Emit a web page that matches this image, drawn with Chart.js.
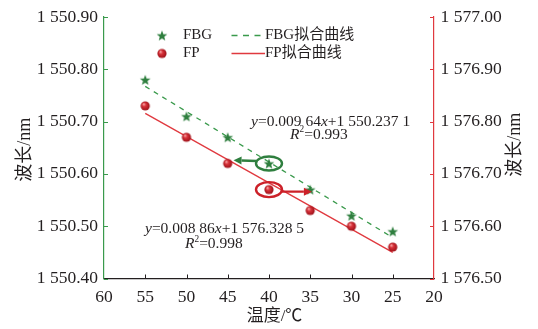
<!DOCTYPE html>
<html>
<head>
<meta charset="utf-8">
<script src="https://cdn.jsdelivr.net/npm/chart.js@4.4.1/dist/chart.umd.min.js"></script>
<style>
  html, body { margin: 0; padding: 0; background: #fff; }
  #wrap { width: 538px; height: 329px; position: relative; }
</style>
</head>
<body>
<div id="wrap"><canvas id="chart"></canvas></div>
<script>
// Temperature sweep (°C) and measured peak wavelengths (nm)
const temperatures   = [55, 50, 45, 40, 35, 30, 25];
const fbgWavelength  = [1550.78, 1550.71, 1550.67, 1550.62, 1550.57, 1550.52, 1550.49];
const fpWavelength   = [1576.83, 1576.77, 1576.72, 1576.67, 1576.63, 1576.60, 1576.56];

// Linear fits: slope, intercept, R²
const fbgFit = [0.00964, 1550.2371, 0.993];
const fpFit  = [0.00886, 1576.3285, 0.998];

// Axis ticks
const xTicks     = [60, 55, 50, 45, 40, 35, 30, 25, 20];
const leftTicks  = [1550.40, 1550.50, 1550.60, 1550.70, 1550.80, 1550.90];
const rightTicks = [1576.50, 1576.60, 1576.70, 1576.80, 1576.90, 1577.00];

// Series names and axis titles
const seriesNames = ['FBG', 'FBG拟合曲线', 'FP', 'FP拟合曲线'];
const yTitle = '波长/nm';
const xTitle = '温度/℃';

const GREEN = '#2f7f3f';
const GREEN_LINE = '#3a9a4c';
const RED = '#cc2129';
const RED_LINE = '#e0393f';
const INK = '#231f20';
const SERIF = '"Liberation Serif", "Noto Sans CJK SC", serif';

// Filled five-point star marker
function makeStar(r, fill) {
  const size = Math.ceil(r * 2 + 2);
  const c = document.createElement('canvas');
  c.width = size; c.height = size;
  const g = c.getContext('2d');
  const cx = size / 2, cy = size / 2 + r * 0.1;
  g.beginPath();
  for (let i = 0; i < 10; i++) {
    const rr = i % 2 === 0 ? r : r * 0.42;
    const a = -Math.PI / 2 + i * Math.PI / 5;
    g.lineTo(cx + rr * Math.cos(a), cy + rr * Math.sin(a));
  }
  g.closePath();
  g.fillStyle = fill;
  g.fill();
  return c;
}

// Shaded sphere marker
function makeSphere(r) {
  const size = Math.ceil(r * 2 + 2);
  const c = document.createElement('canvas');
  c.width = size; c.height = size;
  const g = c.getContext('2d');
  const cx = size / 2, cy = size / 2;
  const grad = g.createRadialGradient(cx - r * 0.35, cy - r * 0.4, r * 0.1, cx, cy, r);
  grad.addColorStop(0, '#f6a0a0');
  grad.addColorStop(0.35, '#d8323a');
  grad.addColorStop(1, '#9c1018');
  g.beginPath();
  g.arc(cx, cy, r, 0, Math.PI * 2);
  g.fillStyle = grad;
  g.fill();
  return c;
}

const starImg = makeStar(5.6, GREEN);
const sphereImg = makeSphere(4.6);

const fitEnds = [temperatures[0], temperatures[temperatures.length - 1]];
const fitLine = (fit) => fitEnds.map(x => ({ x, y: fit[0] * x + fit[1] }));

// Number formatting with thin groups of three: 1 550.237 1
function groupNum(v, dec) {
  const s = v.toFixed(dec);
  let [ip, fp] = s.split('.');
  if (ip.length > 3) ip = ip.replace(/\B(?=(\d{3})+(?!\d))/g, ' ');
  if (fp) fp = fp.replace(/(\d{3})(?=\d)/g, '$1 ');
  return fp ? ip + '.' + fp : ip;
}

// Callout placement (data coordinates) for the fit equations and markers
const annotations = {
  fbgEq:  { x: 42.18, y: 1550.699, axis: 'yL' },
  fbgR2:  { x: 37.45, y: 1550.675, axis: 'yL' },
  fpEq:   { x: 55.03, y: 1576.594, axis: 'yR' },
  fpR2:   { x: 50.18, y: 1576.566, axis: 'yR' },
  fbgRing: { index: 3, rx: 13, ry: 7, tip: { x: 44.3, y: 1550.626 }, side: -1 },
  fpRing:  { index: 3, rx: 13, ry: 7.5, tip: { x: 34.8, y: 1576.666 }, side: 1 }
};

function drawRich(ctx, x, y, parts, size) {
  let cx = x;
  ctx.textBaseline = 'middle';
  ctx.textAlign = 'left';
  ctx.fillStyle = INK;
  for (const p of parts) {
    const fs = p.sup ? size * 0.6 : size;
    ctx.font = (p.i ? 'italic ' : '') + fs + 'px ' + SERIF;
    ctx.fillText(p.t, cx, p.sup ? y - size * 0.3 : y);
    cx += ctx.measureText(p.t).width;
  }
}

const decorPlugin = {
  id: 'decor',
  afterDatasetsDraw(chart) {
    const ctx = chart.ctx;
    const sx = chart.scales.x, yl = chart.scales.yL, yr = chart.scales.yR;
    ctx.save();
    // rings with arrows
    const rings = [
      [annotations.fbgRing, fbgWavelength, yl, GREEN],
      [annotations.fpRing, fpWavelength, yr, RED]
    ];
    for (const [a, arr, ys, col] of rings) {
      const px = sx.getPixelForValue(temperatures[a.index]);
      const py = ys.getPixelForValue(arr[a.index]);
      ctx.strokeStyle = col;
      ctx.lineWidth = 2.4;
      ctx.beginPath();
      ctx.ellipse(px, py, a.rx, a.ry, 0, 0, Math.PI * 2);
      ctx.stroke();
      const tx = sx.getPixelForValue(a.tip.x);
      const ty = ys.getPixelForValue(a.tip.y);
      const sx0 = px + a.side * a.rx * 0.95;
      const sy0 = py + (a.side < 0 ? -2.5 : 2);
      const ang = Math.atan2(ty - sy0, tx - sx0);
      const hl = 8, hw = 4;
      const bx = tx - hl * Math.cos(ang), by = ty - hl * Math.sin(ang);
      ctx.beginPath();
      ctx.moveTo(sx0, sy0);
      ctx.lineTo(bx, by);
      ctx.stroke();
      ctx.fillStyle = col;
      ctx.beginPath();
      ctx.moveTo(tx, ty);
      ctx.lineTo(bx + hw * Math.sin(ang), by - hw * Math.cos(ang));
      ctx.lineTo(bx - hw * Math.sin(ang), by + hw * Math.cos(ang));
      ctx.closePath();
      ctx.fill();
    }
    // fit equations
    const eqs = [
      [annotations.fbgEq, annotations.fbgR2, fbgFit, 5, 4],
      [annotations.fpEq, annotations.fpR2, fpFit, 5, 4]
    ];
    for (const [e, r, fit, d1, d2] of eqs) {
      const ys = chart.scales[e.axis];
      drawRich(ctx, sx.getPixelForValue(e.x), ys.getPixelForValue(e.y), [
        { t: 'y', i: true }, { t: '=' + groupNum(fit[0], d1) },
        { t: 'x', i: true }, { t: '+' + groupNum(fit[1], d2) }
      ], 15.5);
      drawRich(ctx, sx.getPixelForValue(r.x), ys.getPixelForValue(r.y), [
        { t: 'R', i: true }, { t: '2', sup: true }, { t: '=' + fit[2].toFixed(3) }
      ], 15.5);
    }
    ctx.restore();
  },
  afterDraw(chart) {
    const ctx = chart.ctx;
    const area = chart.chartArea;
    const sx = chart.scales.x, yl = chart.scales.yL, yr = chart.scales.yR;
    ctx.save();
    // inward tick marks
    ctx.lineWidth = 1;
    ctx.strokeStyle = GREEN_LINE;
    for (const t of yl.ticks) {
      const y = Math.round(yl.getPixelForValue(t.value)) + 0.5;
      ctx.beginPath(); ctx.moveTo(area.left, y); ctx.lineTo(area.left + 4, y); ctx.stroke();
    }
    ctx.strokeStyle = RED_LINE;
    for (const t of yr.ticks) {
      const y = Math.round(yr.getPixelForValue(t.value)) + 0.5;
      ctx.beginPath(); ctx.moveTo(area.right, y); ctx.lineTo(area.right - 4, y); ctx.stroke();
    }
    ctx.strokeStyle = INK;
    for (const t of sx.ticks) {
      const x = Math.round(sx.getPixelForValue(t.value)) + 0.5;
      if (t.value === 60 || t.value === 20) continue;
      ctx.beginPath(); ctx.moveTo(x, area.bottom); ctx.lineTo(x, area.bottom - 4); ctx.stroke();
    }

    // axis titles
    ctx.fillStyle = INK;
    ctx.font = '18px ' + SERIF;
    ctx.textAlign = 'center';
    ctx.textBaseline = 'middle';
    const midY = (area.top + area.bottom) / 2;
    ctx.save(); ctx.translate(25, midY + 2); ctx.rotate(-Math.PI / 2); ctx.fillText(yTitle, 0, 0); ctx.restore();
    ctx.save(); ctx.translate(chart.width - 23, midY - 3); ctx.rotate(-Math.PI / 2); ctx.fillText(yTitle, 0, 0); ctx.restore();
    ctx.font = '17px ' + SERIF;
    ctx.fillText(xTitle, (area.left + area.right) / 2 + 5.5, 316.5);

    // legend
    const lx = area.left + 58, ly1 = area.top + 18.5, ly2 = area.top + 36.5;
    ctx.drawImage(starImg, lx - starImg.width / 2, ly1 - starImg.height / 2);
    ctx.drawImage(sphereImg, lx - sphereImg.width / 2, ly2 - sphereImg.height / 2);
    ctx.font = '15px ' + SERIF;
    ctx.textAlign = 'left';
    ctx.fillText(seriesNames[0], lx + 21, ly1);
    ctx.fillText(seriesNames[2], lx + 21, ly2);
    ctx.lineWidth = 1.3;
    ctx.strokeStyle = GREEN_LINE;
    ctx.setLineDash([6, 5.5]);
    ctx.beginPath(); ctx.moveTo(lx + 69.5, ly1); ctx.lineTo(lx + 103, ly1); ctx.stroke();
    ctx.setLineDash([]);
    ctx.strokeStyle = RED_LINE;
    ctx.beginPath(); ctx.moveTo(lx + 69.5, ly2); ctx.lineTo(lx + 103, ly2); ctx.stroke();
    ctx.fillText(seriesNames[1], lx + 103, ly1);
    ctx.fillText(seriesNames[3], lx + 103, ly2);
    ctx.restore();
  }
};

const tickFont = { family: SERIF, size: 17.5 };

new Chart(document.getElementById('chart'), {
  type: 'scatter',
  data: {
    datasets: [
      {
        label: seriesNames[0], yAxisID: 'yL', order: 0,
        data: temperatures.map((x, i) => ({ x, y: fbgWavelength[i] })),
        pointStyle: starImg, pointRadius: 6
      },
      {
        label: seriesNames[1], yAxisID: 'yL', order: 2, showLine: true,
        data: fitLine(fbgFit),
        borderColor: GREEN_LINE, borderWidth: 1.3, borderDash: [5, 5], pointRadius: 0
      },
      {
        label: seriesNames[2], yAxisID: 'yR', order: 1,
        data: temperatures.map((x, i) => ({ x, y: fpWavelength[i] })),
        pointStyle: sphereImg, pointRadius: 5
      },
      {
        label: seriesNames[3], yAxisID: 'yR', order: 3, showLine: true,
        data: fitLine(fpFit),
        borderColor: RED_LINE, borderWidth: 1.3, pointRadius: 0
      }
    ]
  },
  plugins: [decorPlugin],
  options: {
    responsive: true,
    maintainAspectRatio: false,
    animation: false,
    layout: { padding: { top: 14.5, left: 0, right: 0, bottom: 0 } },
    plugins: { legend: { display: false }, tooltip: { enabled: false } },
    scales: {
      x: {
        type: 'linear', reverse: true, min: 20, max: 60,
        afterBuildTicks: s => { s.ticks = xTicks.map(v => ({ value: v })); },
        afterFit: s => { s.height = 50.5; },
        grid: { drawOnChartArea: false, drawTicks: false },
        border: { color: INK, width: 1.2 },
        ticks: { font: tickFont, color: INK, padding: 8, maxRotation: 0, callback: v => String(v) }
      },
      yL: {
        position: 'left', min: 1550.40, max: 1550.90,
        afterBuildTicks: s => { s.ticks = leftTicks.map(v => ({ value: v })); },
        afterFit: s => { s.width = 104; },
        grid: { drawOnChartArea: false, drawTicks: false },
        border: { color: GREEN_LINE, width: 1.2 },
        ticks: { font: tickFont, color: INK, padding: 6, callback: v => groupNum(v, 2) }
      },
      yR: {
        position: 'right', min: 1576.50, max: 1577.00,
        afterBuildTicks: s => { s.ticks = rightTicks.map(v => ({ value: v })); },
        afterFit: s => { s.width = 104; },
        grid: { drawOnChartArea: false, drawTicks: false },
        border: { color: RED_LINE, width: 1.2 },
        ticks: { font: tickFont, color: INK, padding: 6.5, callback: v => groupNum(v, 2) }
      }
    }
  }
});
</script>
</body>
</html>
